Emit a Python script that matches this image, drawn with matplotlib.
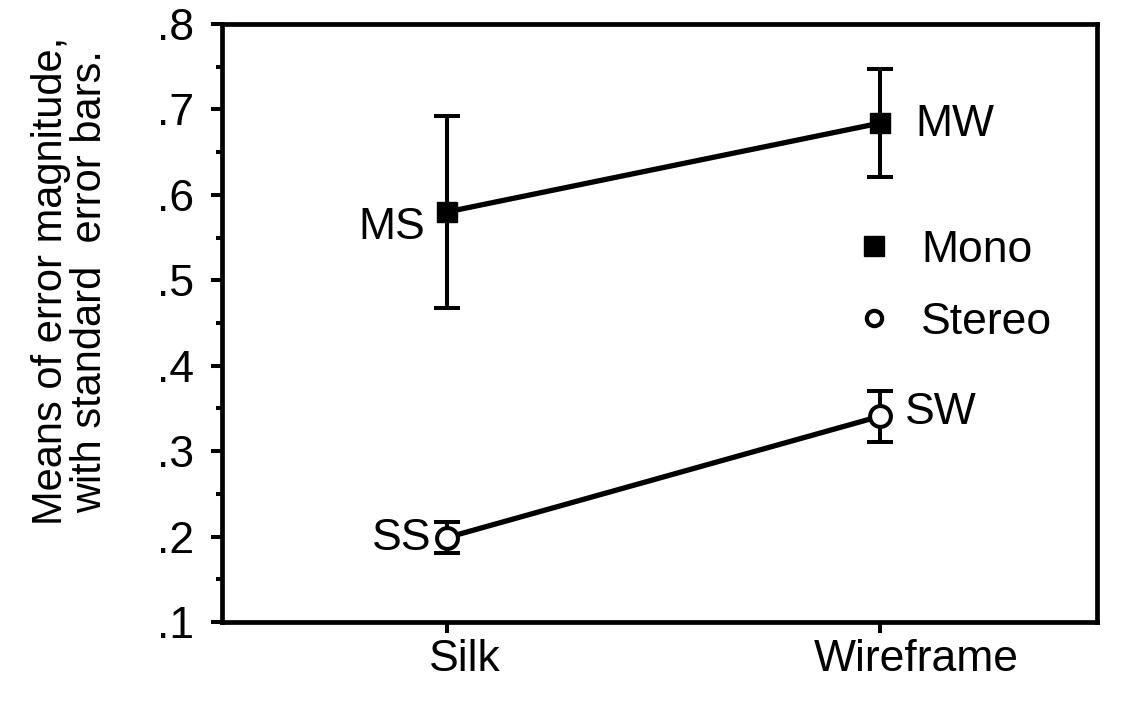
import matplotlib
matplotlib.use('Agg')
import matplotlib.pyplot as plt
from matplotlib.lines import Line2D
from matplotlib.transforms import ScaledTranslation

plt.rcParams['font.family'] = ['Liberation Sans', 'DejaVu Sans']

# data
conditions = ['Silk', 'Wireframe']
mono_means = [0.58, 0.684]
mono_err = [0.112, 0.063]
stereo_means = [0.199, 0.341]
stereo_err = [0.018, 0.03]
point_labels_mono = ['MS', 'MW']
point_labels_stereo = ['SS', 'SW']
yticks = [0.1, 0.2, 0.3, 0.4, 0.5, 0.6, 0.7, 0.8]
ytick_labels = ['.1', '.2', '.3', '.4', '.5', '.6', '.7', '.8']

FS = 32
LW = 2.9

fig = plt.figure(figsize=(11.32, 7.03), dpi=100)
ax = fig.add_axes([0.196, 0.115, 0.773, 0.851])

x = list(range(len(conditions)))

ax.errorbar(x, mono_means, yerr=mono_err, color='black', lw=3.8,
            elinewidth=LW, capsize=9.5, capthick=LW,
            marker='s', ms=14, mfc='black', mec='black', zorder=3)
ax.errorbar(x, stereo_means, yerr=stereo_err, color='black', lw=3.8,
            elinewidth=LW, capsize=9.5, capthick=LW,
            marker='o', ms=15, mfc='white', mec='black', mew=2.9, zorder=3)

# point labels
ax.annotate(point_labels_mono[0], (x[0], mono_means[0]), xytext=(-16, -11),
            textcoords='offset points', ha='right', va='center', fontsize=FS)
ax.annotate(point_labels_mono[1], (x[1], mono_means[1]), xytext=(25, -1),
            textcoords='offset points', ha='left', va='center', fontsize=FS)
ax.annotate(point_labels_stereo[0], (x[0], stereo_means[0]), xytext=(-11, -1),
            textcoords='offset points', ha='right', va='center', fontsize=FS)
ax.annotate(point_labels_stereo[1], (x[1], stereo_means[1]), xytext=(18, 3),
            textcoords='offset points', ha='left', va='center', fontsize=FS)

handles = [Line2D([], [], ls='none', marker='s', ms=14, mfc='black', mec='black'),
           Line2D([], [], ls='none', marker='o', ms=11, mfc='white', mec='black', mew=3)]
ax.legend(handles, ['Mono', 'Stereo'], loc='upper left', bbox_to_anchor=(0.672, 0.723),
          frameon=False, fontsize=FS, handletextpad=0.5, labelspacing=0.7,
          handlelength=1.1)

ax.set_xlim(-0.52, 1.5)
ax.set_ylim(0.1, 0.8)
ax.set_xticks(x)
ax.set_xticklabels(conditions, fontsize=FS)
ax.set_yticks(yticks)
ax.set_yticklabels(ytick_labels, fontsize=FS)
ax.set_yticks([0.15, 0.25, 0.35, 0.45, 0.55, 0.65, 0.75], minor=True)
ax.tick_params(axis='both', which='major', length=8, width=LW, direction='out')
ax.tick_params(axis='y', which='major', pad=12)
ax.tick_params(axis='x', which='major', pad=4)
ax.tick_params(axis='y', which='minor', length=4.5, width=LW, direction='out')

# the category names sit a little right of their ticks in the original
for lbl, dx in zip(ax.get_xticklabels(), [18, 36]):
    lbl.set_transform(lbl.get_transform() + ScaledTranslation(dx / 100, 0, fig.dpi_scale_trans))

for s in ax.spines.values():
    s.set_linewidth(3.4)

ax.set_ylabel('Means of error magnitude,\nwith standard  error bars.', fontsize=30,
              linespacing=0.95)
ax.yaxis.set_label_coords(-0.128, 0.57)

fig.savefig('out.png', dpi=100)
